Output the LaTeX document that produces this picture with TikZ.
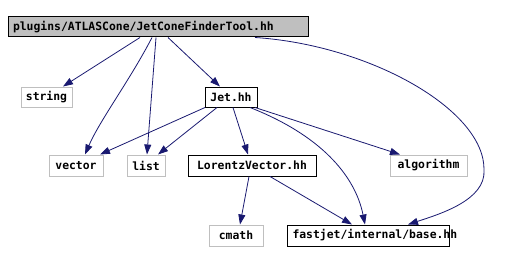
\documentclass[tikz,border=0pt]{standalone}
\usepackage{fontspec}
\setmonofont{DejaVu Sans Mono}
\usetikzlibrary{arrows.meta}
\definecolor{edgeblue}{HTML}{191970}
\definecolor{boxgray}{HTML}{BFBFBF}
\begin{document}
\begin{tikzpicture}[x=1pt,y=-1pt,
  every node/.style={font=\ttfamily\bfseries\fontsize{11.4}{12}\selectfont, inner sep=0pt, minimum height=20pt},
  sysbox/.style={draw=boxgray, line width=1pt},
  projbox/.style={draw=black, line width=1pt},
  dep/.style={draw=edgeblue, line width=0.8pt, -{Triangle[length=10pt,width=7pt]}}]
\useasboundingbox (0,0) rectangle (524,262);
\node[projbox, fill=boxgray, minimum width=300pt, text width=290pt, align=left] (top) at (158,27) {\mbox{plugins/ATLASCone/JetConeFinderTool.hh}};
\node[sysbox, minimum width=51pt] (string) at (46.5,97) {string};
\node[projbox, minimum width=52pt] (jet) at (231,97) {Jet.hh};
\node[sysbox, minimum width=54pt, minimum height=21pt] (vector) at (76,165.5) {vector};
\node[sysbox, minimum width=38pt, minimum height=21pt] (list) at (146,165.5) {list};
\node[projbox, minimum width=128pt, minimum height=21pt] (lv) at (252,165.5) {LorentzVector.hh};
\node[sysbox, minimum width=77pt, minimum height=21pt] (algo) at (428.5,165.5) {algorithm};
\node[sysbox, minimum width=54pt, minimum height=21pt] (cmath) at (236,235.5) {cmath};
\node[projbox, minimum width=162pt, minimum height=21pt, text width=151pt, align=left] (fj) at (368,235.5) {\mbox{fastjet/internal/base.hh}};
% edges from top
\draw[dep] ([xshift=-18pt]top.south) -- ([xshift=16.5pt]string.north);
\draw[dep] ([xshift=-6pt]top.south) .. controls (130,80) and (100,120) .. ([xshift=9pt]vector.north);
\draw[dep] ([xshift=-2pt]top.south) -- ([xshift=1pt]list.north);
\draw[dep] ([xshift=10pt]top.south) -- ([xshift=-11pt]jet.north);
\draw[dep] ([xshift=97pt]top.south) .. controls (370,45) and (485,110) .. (484,170) .. controls (486,200) and (440,214) .. ([xshift=40pt]fj.north);
% edges from Jet
\draw[dep] ([xshift=-26pt]jet.south) -- ([xshift=24pt]vector.north);
\draw[dep] ([xshift=-14pt]jet.south) -- ([xshift=12pt]list.north);
\draw[dep] ([xshift=2pt]jet.south) -- ([xshift=-4pt]lv.north);
\draw[dep] ([xshift=19pt]jet.south) .. controls (320,135) and (355,175) .. ([xshift=-3pt]fj.north);
\draw[dep] ([xshift=24pt]jet.south) -- ([xshift=-28.5pt]algo.north);
% edges from LorentzVector
\draw[dep] ([xshift=-3pt]lv.south) -- ([xshift=4pt]cmath.north);
\draw[dep] ([xshift=18pt]lv.south) -- ([xshift=-16pt]fj.north);
\end{tikzpicture}
\end{document}
